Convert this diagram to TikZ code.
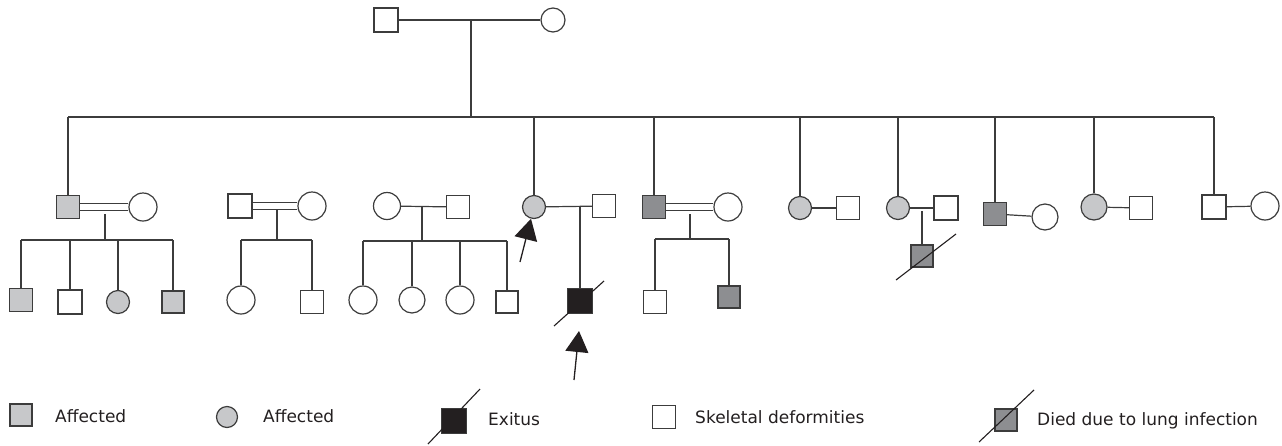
\documentclass[tikz,border=0pt]{standalone}
\usepackage{fontspec}
\setmainfont{DejaVu Sans}
\usetikzlibrary{arrows.meta}
\definecolor{lc}{HTML}{3C3C3C}
\definecolor{affg}{HTML}{C7C8CA}
\definecolor{deadg}{HTML}{8D8E91}
\definecolor{exb}{HTML}{231F20}
\tikzset{
  ln/.style={draw=lc, line width=1.2pt},
  sqr/.style={rectangle, draw=lc, line width=1.2pt, fill=white, inner sep=0pt, minimum size=#1},
  sqr/.default=23pt,
  cir/.style={circle, draw=lc, line width=1.2pt, fill=white, inner sep=0pt, minimum size=#1},
  cir/.default=28pt,
  aff/.style={fill=affg},
  dead/.style={fill=deadg},
  exi/.style={fill=exb},
  dbl/.style={draw=lc, line width=1.2pt, double=white, double distance=6pt},
  slash/.style={draw=exb, line width=1.1pt},
  lbl/.style={anchor=base west, font=\fontsize{17}{20}\selectfont, text=exb, inner sep=0pt},
  arr/.style={draw=exb, line width=1.3pt, -{Triangle[length=21pt 0 0,width=23pt 0 0]}}
}
\begin{document}
\begin{tikzpicture}[x=1pt,y=-1pt]
\useasboundingbox (0,0) rectangle (1282,445);
% generation I
\node[sqr=24pt] (gf) at (386,20) {};
\node[cir=24pt] (gm) at (553,20) {};
\draw[ln] (gf) -- (gm);
\coordinate (m0) at (471,20);
\coordinate (s0) at (471,117);
\draw[ln] (m0) -- (s0);

% generation II
\node[sqr, aff] (a1) at (68,207) {};
\node[cir] (a1w) at (143,207) {};
\node[sqr=24pt] (b1) at (240,206) {};
\node[cir] (b1w) at (312,206) {};
\node[cir=27pt] (c1w) at (387,206) {};
\node[sqr] (c1h) at (458,207) {};
\node[cir=23pt, aff] (p) at (534,207) {};
\node[sqr] (p4h) at (604,206) {};
\node[sqr, dead] (e1) at (654,207) {};
\node[cir] (e1w) at (728,207) {};
\node[cir=23pt, aff] (f1) at (800,208) {};
\node[sqr] (f1h) at (848,208) {};
\node[cir=23pt, aff] (g1) at (898,208) {};
\node[sqr=24pt] (g1h) at (946,208) {};
\node[sqr, dead] (h1) at (995,214) {};
\node[cir=26pt] (h1w) at (1045,217) {};
\node[cir=26pt, aff] (i1) at (1094,207) {};
\node[sqr] (i1h) at (1141,208) {};
\node[sqr=24pt] (j1) at (1214,207) {};
\node[cir] (j1w) at (1265,206) {};

% sibship of generation II
\draw[ln] (a1 |- s0) -- (j1 |- s0);
\foreach \n in {a1,p,e1,f1,g1,h1,i1,j1} {
  \draw[ln] (\n.north) -- (\n.north |- s0);
}

% couples
\draw[dbl] (a1) -- (a1w);
\draw[dbl] (b1) -- (b1w);
\draw[ln] (c1w) -- (c1h);
\draw[ln] (p) -- (p4h);
\draw[dbl] (e1) -- (e1w);
\draw[ln] (f1) -- (f1h);
\draw[ln] (g1) -- (g1h);
\draw[ln] (h1) -- (h1w);
\draw[ln] (i1) -- (i1h);
\draw[ln] (j1) -- (j1w);

% family 1 children
\node[sqr, aff] (k1) at (21,300) {};
\node[sqr=24pt] (k2) at (70,302) {};
\node[cir=23pt, aff] (k3) at (118,302) {};
\node[sqr=22pt, aff] (k4) at (173,302) {};
\coordinate (d1a) at (105,214);
\coordinate (d1b) at (105,240);
\draw[ln] (d1a) -- (d1b);
\draw[ln] (k1 |- d1b) -- (k4 |- d1b);
\foreach \n in {k1,k2,k3,k4} { \draw[ln] (\n.north) -- (\n.north |- d1b); }

% family 2 children
\node[cir] (l1) at (241,300) {};
\node[sqr] (l2) at (312,302) {};
\coordinate (d2a) at (277,209);
\coordinate (d2b) at (277,240);
\draw[ln] (d2a) -- (d2b);
\draw[ln] (l1 |- d2b) -- (l2 |- d2b);
\foreach \n in {l1,l2} { \draw[ln] (\n.north) -- (\n.north |- d2b); }

% family 3 children
\node[cir] (n1) at (363,300) {};
\node[cir=26pt] (n2) at (412,300) {};
\node[cir] (n3) at (460,300) {};
\node[sqr=22pt] (n4) at (507,302) {};
\coordinate (d3a) at (422,207);
\coordinate (d3b) at (422,241);
\draw[ln] (d3a) -- (d3b);
\draw[ln] (n1 |- d3b) -- (n4 |- d3b);
\foreach \n in {n1,n2,n3,n4} { \draw[ln] (\n.north) -- (\n.north |- d3b); }

% family 4 child (exitus, proband)
\node[sqr=25pt, exi] (ex) at (580,301) {};
\coordinate (d4a) at (580,206);
\draw[ln] (d4a) -- (ex.north);
\coordinate (x1a) at (554,326);
\coordinate (x1b) at (604,281);
\draw[slash] (x1a) -- (x1b);
\coordinate (ar1) at (520,262);
\draw[arr] (ar1) -- (p);
\coordinate (ar2) at (574,380);
\coordinate (ar2h) at (579,331);
\draw[arr] (ar2) -- (ar2h);

% family 5 children
\node[sqr] (o1) at (655,302) {};
\node[sqr=22pt, dead] (o2) at (729,297) {};
\coordinate (d5a) at (690,214);
\coordinate (d5b) at (690,239);
\draw[ln] (d5a) -- (d5b);
\draw[ln] (o1 |- d5b) -- (o2 |- d5b);
\foreach \n in {o1,o2} { \draw[ln] (\n.north) -- (\n.north |- d5b); }

% family 7 child
\node[sqr=22pt, dead] (q1) at (922,256) {};
\coordinate (d7a) at (922,211);
\draw[ln] (d7a) -- (q1.north);
\coordinate (x2a) at (896,280);
\coordinate (x2b) at (956,234);
\draw[slash] (x2a) -- (x2b);

% legend
\node[sqr=22pt, aff] (L1) at (21,415) {};
\node[lbl] (T1) at (55,422) {Affected};
\node[cir=21pt, aff] (L2) at (227,417) {};
\node[lbl] (T2) at (263,422) {Affected};
\node[sqr=25pt, exi] (L3) at (454,421) {};
\coordinate (x3a) at (428,444);
\coordinate (x3b) at (480,389);
\draw[slash] (x3a) -- (x3b);
\node[lbl] (T3) at (488,425) {Exitus};
\node[sqr] (L4) at (664,417) {};
\node[lbl] (T4) at (695,423) {Skeletal deformities};
\node[sqr=22pt, dead] (L5) at (1006,420) {};
\coordinate (x4a) at (979,442);
\coordinate (x4b) at (1034,390);
\draw[slash] (x4a) -- (x4b);
\node[lbl] (T5) at (1037,425) {Died due to lung infection};
\end{tikzpicture}
\end{document}
